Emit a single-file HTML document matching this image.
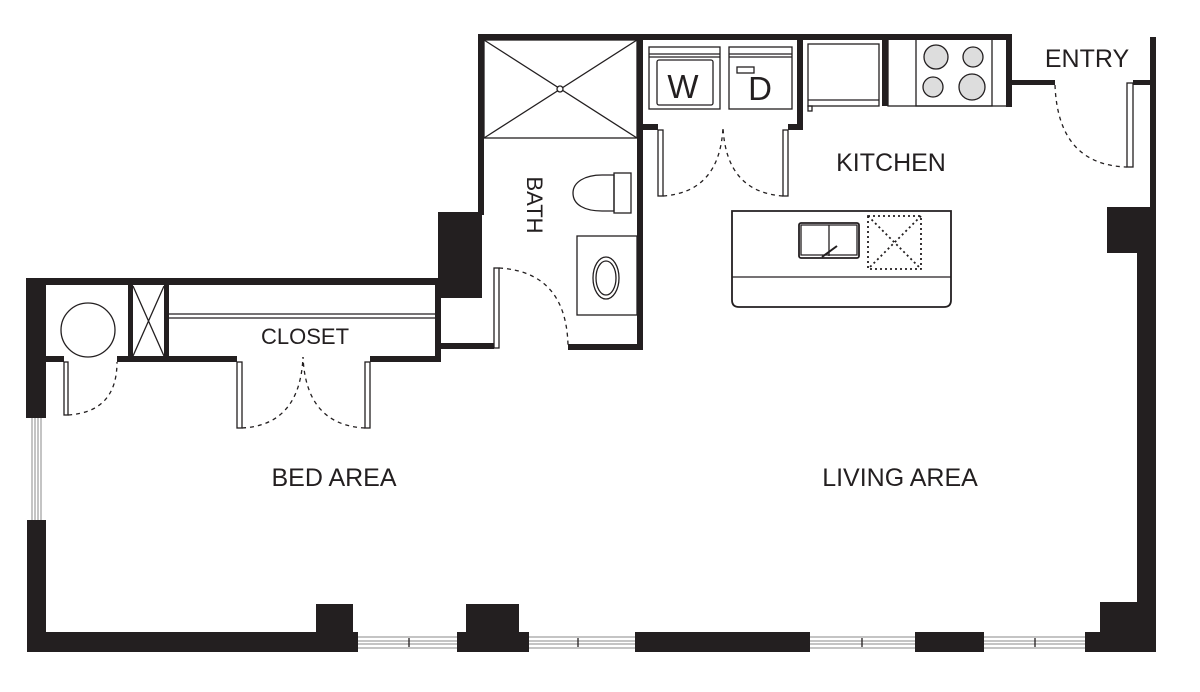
<!DOCTYPE html>
<html><head><meta charset="utf-8"><style>
html,body{margin:0;padding:0;background:#fff;}
svg{display:block;}
text{font-family:"Liberation Sans",Arial,sans-serif;fill:#231f20;}
</style></head><body>
<svg width="1200" height="692" viewBox="0 0 1200 692" xmlns="http://www.w3.org/2000/svg">
<g fill="#231f20" stroke="none">
<rect x="27" y="632" width="331" height="20"/>
<rect x="316" y="604" width="37" height="48"/>
<rect x="457" y="632" width="72" height="20"/>
<rect x="466" y="604" width="53" height="48"/>
<rect x="635" y="632" width="175" height="20"/>
<rect x="915" y="632" width="69" height="20"/>
<rect x="1085" y="632" width="71" height="20"/>
<rect x="1100" y="602" width="56" height="50"/>
<rect x="1137" y="250" width="19" height="402"/>
<rect x="1107" y="207" width="49" height="46"/>
<rect x="1150" y="37" width="6" height="172"/>
<rect x="1133" y="80" width="20" height="5"/>
<rect x="26" y="278" width="20" height="140"/>
<rect x="27" y="520" width="19" height="132"/>
<rect x="26" y="278" width="414" height="7"/>
<rect x="46" y="356" width="18" height="6"/>
<rect x="117" y="356" width="120" height="6"/>
<rect x="370" y="356" width="70" height="6"/>
<rect x="435" y="278" width="6" height="84"/>
<rect x="128" y="284" width="5" height="75"/>
<rect x="164" y="284" width="5" height="75"/>
<rect x="438" y="212" width="44" height="86"/>
<rect x="440" y="343" width="54" height="6"/>
<rect x="478" y="35" width="6" height="180"/>
<rect x="478" y="34" width="534" height="6"/>
<rect x="637" y="35" width="6" height="315"/>
<rect x="568" y="344" width="75" height="6"/>
<rect x="642" y="124" width="16" height="6"/>
<rect x="788" y="124" width="15" height="6"/>
<rect x="797" y="35" width="6" height="95"/>
<rect x="882" y="39" width="6" height="67"/>
<rect x="1006" y="35" width="6" height="72"/>
<rect x="1007" y="80" width="48" height="5"/>
</g>
<g stroke="#888" stroke-width="1" fill="none">
<path d="M358 637H457M358 641H457M358 644H457M358 648H457"/>
<path d="M529 637H635M529 641H635M529 644H635M529 648H635"/>
<path d="M810 637H915M810 641H915M810 644H915M810 648H915"/>
<path d="M984 637H1085M984 641H1085M984 644H1085M984 648H1085"/>
<path d="M32 418V520M35 418V520M38 418V520M41 418V520"/>
</g>
<g stroke="#231f20" stroke-width="1.3" fill="none">
<path d="M409 638V647M578 638V647M862 638V647M1035 638V647"/>
<circle cx="88" cy="330" r="27"/>
<path d="M133 286L164 356M164 286L133 356"/>
<path d="M169 314H435M169 318H435"/>
<rect x="64" y="362" width="4" height="53" fill="#fff"/>
<rect x="237" y="362" width="5" height="66" fill="#fff"/>
<rect x="365" y="362" width="5" height="66" fill="#fff"/>
<rect x="494" y="268" width="5" height="80" fill="#fff"/>
<rect x="658" y="130" width="5" height="66" fill="#fff"/>
<rect x="783" y="130" width="5" height="66" fill="#fff"/>
<rect x="1127" y="83" width="6" height="84" fill="#fff"/>
<rect x="484" y="40" width="153" height="98"/>
<path d="M484 40L637 138M637 40L484 138"/>
<circle cx="560" cy="89" r="3" fill="#fff"/>
<path d="M614 175H602C585 175 573 182 573 193C573 205 585 211 602 211H614Z"/>
<rect x="614" y="173" width="17" height="40"/>
<rect x="577" y="236" width="60" height="79"/>
<ellipse cx="606" cy="278" rx="13" ry="21"/>
<ellipse cx="606" cy="278" rx="10" ry="17"/>
<rect x="649" y="47" width="71" height="62"/>
<path d="M649 54H720M649 57H720"/>
<rect x="657" y="60" width="56" height="45" rx="2"/>
<rect x="729" y="47" width="63" height="62"/>
<path d="M729 54H792M729 57H792"/>
<rect x="737" y="67" width="17" height="6"/>
<rect x="808" y="44" width="71" height="62"/>
<path d="M808 100H879"/>
<rect x="808" y="106" width="4" height="5"/>
<rect x="888" y="39" width="119" height="67"/>
<rect x="916" y="39" width="76" height="67"/>
<g fill="#ddd">
<circle cx="936" cy="57" r="12"/><circle cx="973" cy="57" r="10"/>
<circle cx="933" cy="87" r="10"/><circle cx="972" cy="87" r="13"/>
</g>
<path d="M732 211H951V300Q951 307 944 307H739Q732 307 732 300Z" stroke-width="1.8"/>
<path d="M732 277H951"/>
<rect x="799" y="223" width="60" height="35" rx="2" stroke-width="1.8"/>
<path d="M829 225V256M801 225H857V255H801Z"/>
<path d="M822 257L837 246" stroke-width="2"/>
<rect x="868" y="216" width="53" height="53" stroke-dasharray="2,3" stroke-width="1.8"/>
<path d="M868 216L921 269M921 216L868 269" stroke-dasharray="2,3" stroke-width="1.8"/>
<g stroke-dasharray="4,4">
<path d="M68 415Q117 412 117 362"/>
<path d="M242 428Q300 425 303 357"/>
<path d="M365 428Q306 425 303 357"/>
<path d="M499 268Q566 272 568 345"/>
<path d="M663 196Q720 192 723 127"/>
<path d="M783 196Q726 192 723 127"/>
<path d="M1055 85Q1058 165 1127 167"/>
</g>
</g>
<text x="683" y="98" font-size="33" text-anchor="middle">W</text>
<text x="760" y="100" font-size="33" text-anchor="middle">D</text>
<text x="891" y="171" font-size="25" text-anchor="middle">KITCHEN</text>
<text x="1087" y="67" font-size="25" text-anchor="middle">ENTRY</text>
<text x="305" y="344" font-size="22" text-anchor="middle">CLOSET</text>
<text x="334" y="486" font-size="25" text-anchor="middle">BED AREA</text>
<text x="900" y="486" font-size="25" text-anchor="middle">LIVING AREA</text>
<text transform="translate(527,205) rotate(90)" font-size="22" text-anchor="middle">BATH</text>
</svg>
</body></html>
